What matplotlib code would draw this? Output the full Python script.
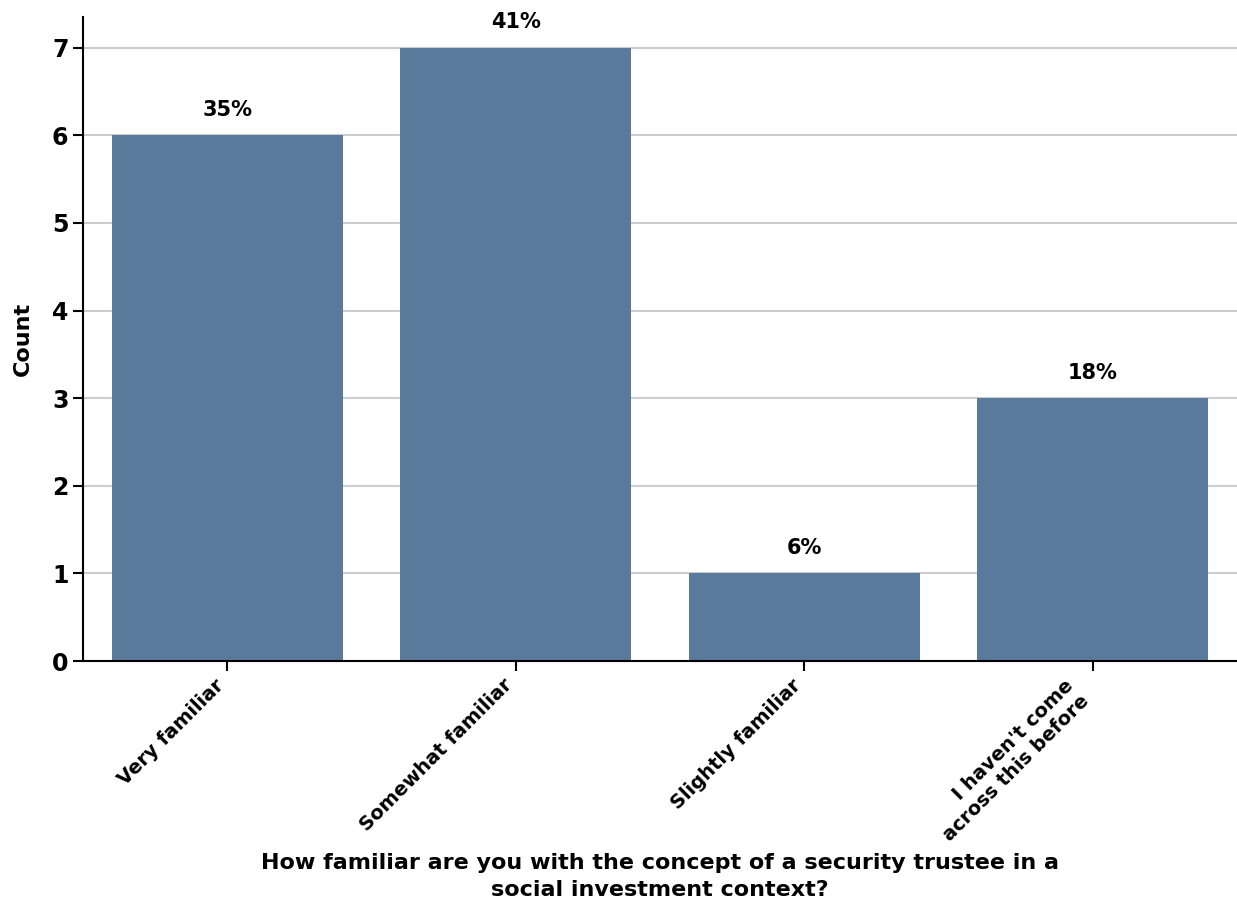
import matplotlib.pyplot as plt

categories = ['Very familiar', 'Somewhat familiar', 'Slightly familiar',
              "I haven't come\nacross this before"]
counts = [6, 7, 1, 3]

plt.rcParams['font.family'] = ['DejaVu Sans']
plt.rcParams['font.weight'] = 'bold'

fig = plt.figure(figsize=(12.37, 9.09), dpi=100)
ax = fig.add_axes([0.0671, 0.2728, 0.9329, 0.7085])

total = sum(counts)
x = range(len(categories))
bars = ax.bar(x, counts, width=0.8, color='#5A7A9C', zorder=2)

for b, c in zip(bars, counts):
    ax.annotate(f'{round(c / total * 100)}%',
                (b.get_x() + b.get_width() / 2, c),
                xytext=(0, 11), textcoords='offset points',
                ha='center', va='bottom', fontsize=15, fontweight='bold')

ax.set_xlim(-0.5, 3.5)
ax.set_ylim(0, 7.35)
ax.set_yticks(range(0, 8))
ax.yaxis.grid(True, color='#cccccc', linewidth=1.5, zorder=0)
ax.set_axisbelow(True)

ax.set_xticks(list(x))
ax.set_xticklabels(categories, rotation=45, ha='right',
                   fontsize=14, fontweight='bold')
ax.tick_params(axis='y', labelsize=17, length=7, width=1.5)
ax.tick_params(axis='x', length=7, width=1.5)
for lab in ax.get_yticklabels():
    lab.set_fontweight('bold')

for s in ['top', 'right']:
    ax.spines[s].set_visible(False)
for s in ['left', 'bottom']:
    ax.spines[s].set_linewidth(1.5)

ax.set_ylabel('Count', fontsize=16, fontweight='bold', labelpad=14)
ax.set_xlabel('How familiar are you with the concept of a security trustee in a\n'
              'social investment context?', fontsize=16, fontweight='bold',
              labelpad=6, linespacing=1.45)

fig.savefig('out.png', dpi=100)
